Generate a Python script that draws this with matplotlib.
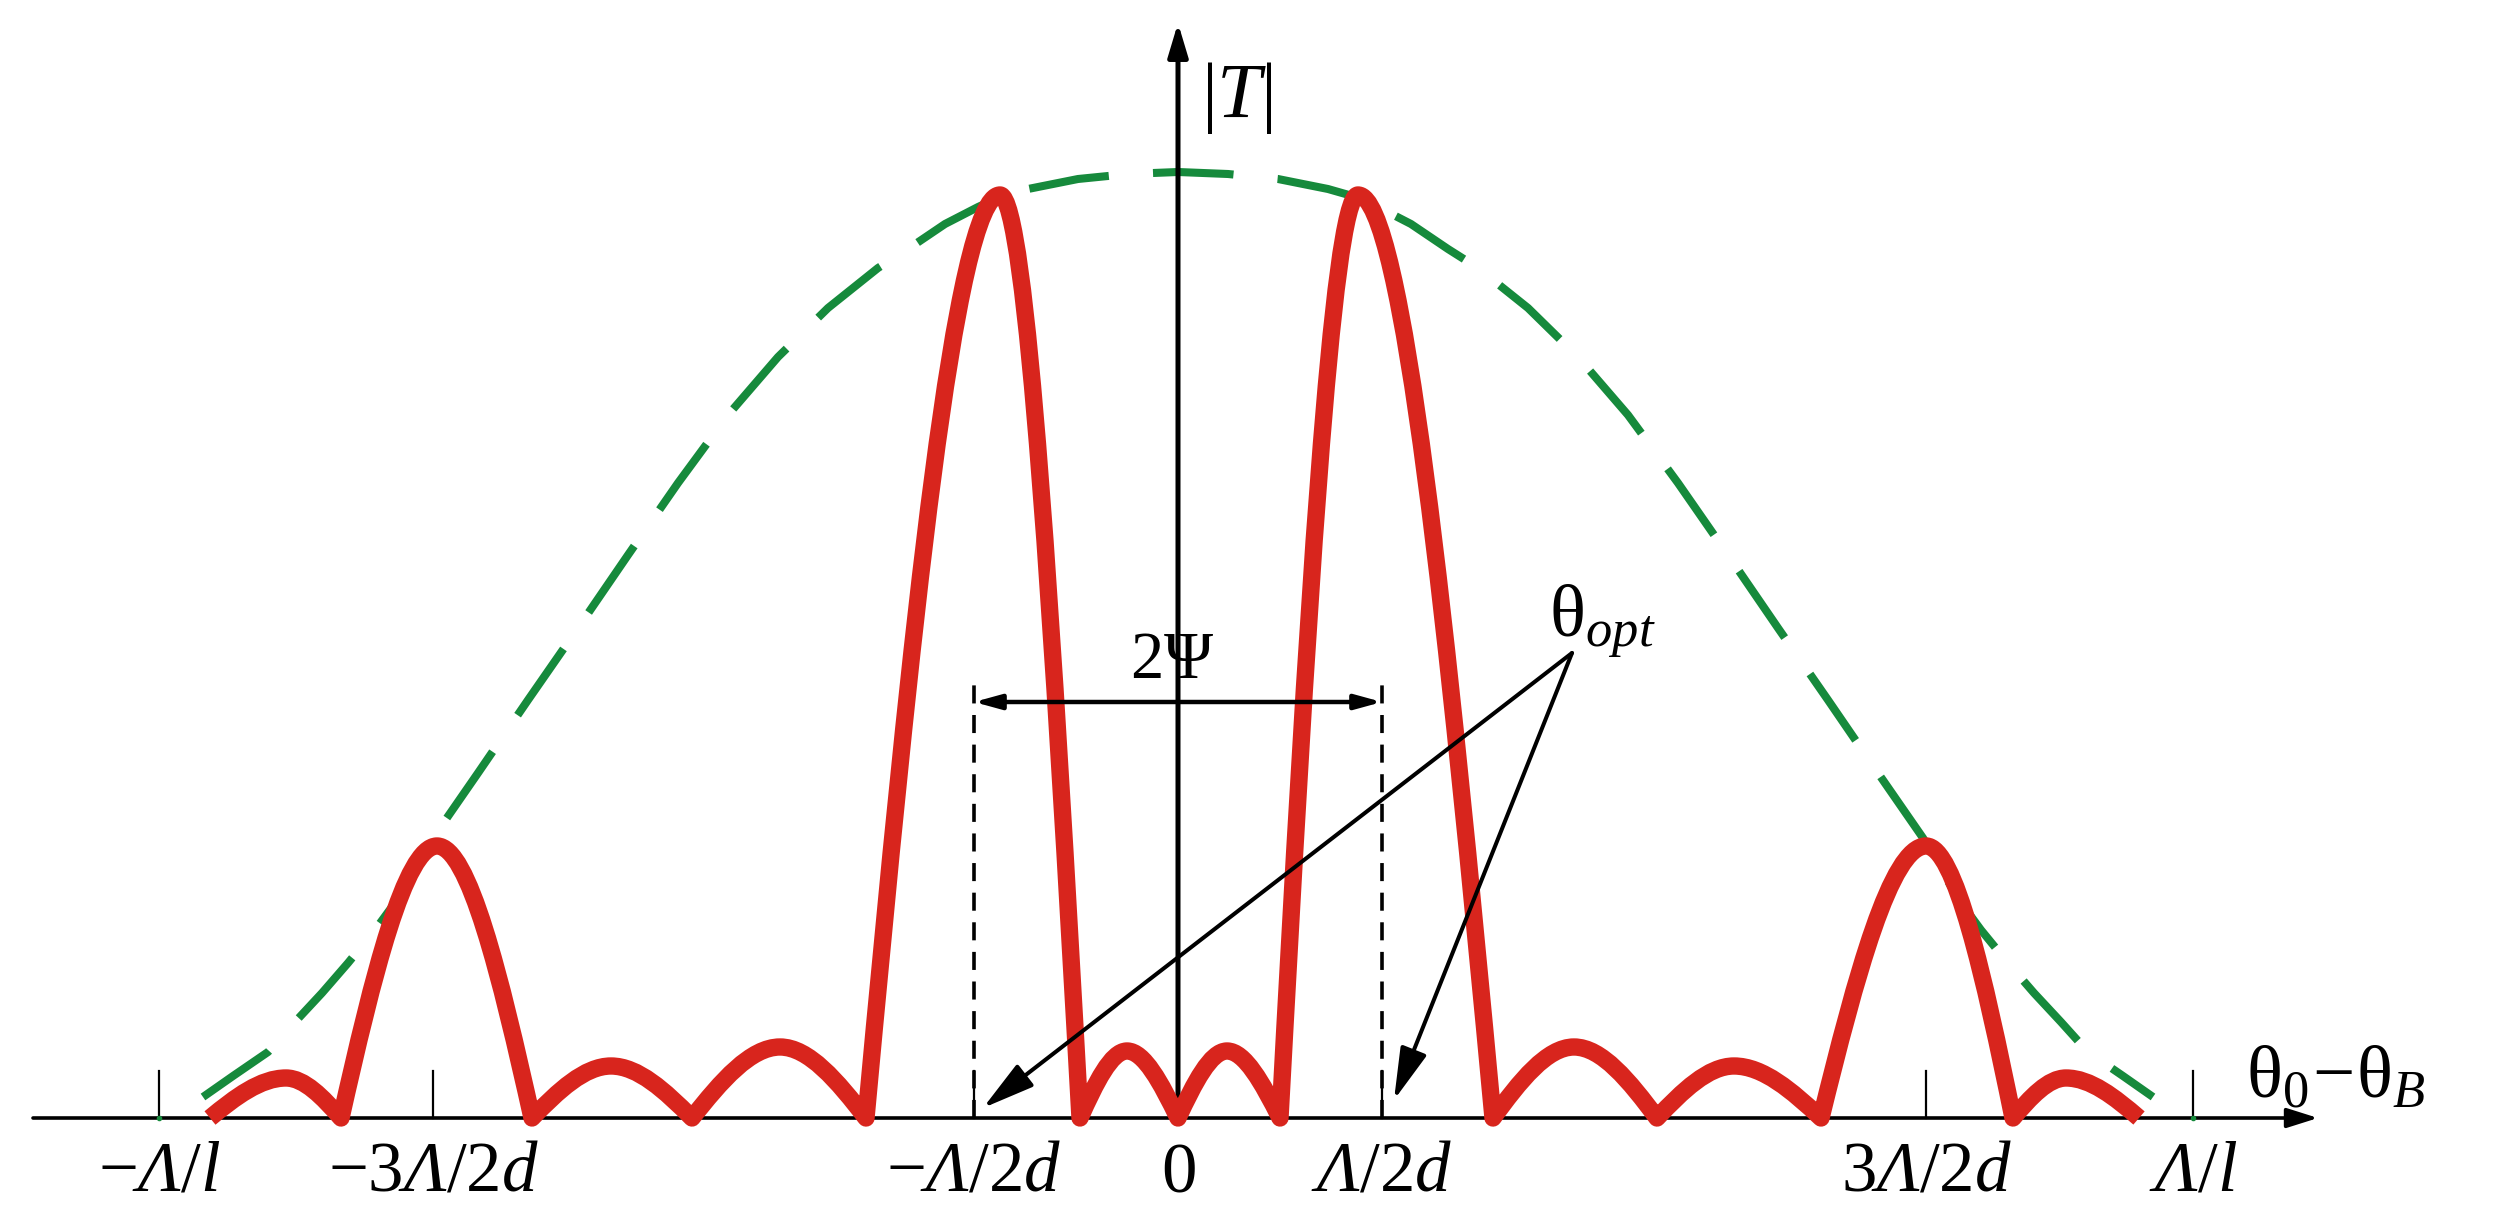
import numpy as np
import matplotlib
matplotlib.use('Agg')
import matplotlib.pyplot as plt
from matplotlib.path import Path
from matplotlib.patches import PathPatch

plt.rcParams['mathtext.fontset'] = 'custom'
plt.rcParams['mathtext.rm'] = 'Liberation Serif'
plt.rcParams['mathtext.it'] = 'Liberation Serif:italic'
plt.rcParams['mathtext.bf'] = 'Liberation Serif:bold'
plt.rcParams['mathtext.sf'] = 'Liberation Serif:italic'
plt.rcParams['font.family'] = ['Liberation Serif', 'DejaVu Serif']

# ---------------- data (x relative to |T| axis, height above theta axis) -------------
# red |T| curve: lobe boundaries (zeros) and lobe peaks
lobe_bounds = [-968, -837, -646, -486, -312, -98, 0, 102, 315, 479, 643, 835, 961]
lobe_peak_x = [-892, -741, -567, -398, -178, -51, 49, 180, 396, 556, 748, 888]
lobe_peak_h = [40, 272, 52, 71, 923, 67, 67, 923, 71, 52, 272, 40]

# green dashed envelope
env_x = [-975, -945, -910, -883, -856, -830, -803, -781, -745, -700, -650, -600, -550,
         -500, -450, -400, -350, -300, -270, -233, -200, -178, -150, -100, -50, 0,
         50, 100, 150, 178, 200, 233, 270, 300, 350, 400, 450, 500, 550, 600, 650,
         700, 745, 781, 803, 830, 856, 883, 910, 945, 975]
env_h = [21, 42, 66, 96, 125, 155, 188, 218, 280, 345, 418, 490, 563,
         635, 703, 761, 810, 850, 869, 894, 911, 921, 929, 939, 944, 946,
         944, 939, 929, 921, 911, 894, 869, 850, 810, 761, 703, 635, 563, 490, 418,
         345, 280, 218, 188, 155, 125, 96, 66, 42, 21]

# ticks and tick labels
tick_pos = [-1019, -745, -204, 204, 748, 1015]
label_pos = [-1019, -745, -204, 0, 204, 748, 1015]
label_txt = [r'$-\mathsf{\Lambda}/l$', r'$-3\mathsf{\Lambda}/2d$', r'$-\mathsf{\Lambda}/2d$',
             r'$0$', r'$\mathsf{\Lambda}/2d$', r'$3\mathsf{\Lambda}/2d$', r'$\mathsf{\Lambda}/l$']

# annotation geometry
psi_left, psi_right, psi_h, psi_top = -204, 204, 416, 441
opt_origin = (394, 465)
opt_targets = [(-195, 10), (216, 18)]

RED = '#D8251D'
GREEN = '#168A3C'

fig = plt.figure(figsize=(25.11, 12.15), dpi=100)
ax = fig.add_axes([0, 0, 1, 1])
ax.set_xlim(-1178, 1333)
ax.set_ylim(-97, 1118)
ax.axis('off')

# envelope
ax.plot(env_x, env_h, color=GREEN, lw=5.8, dashes=(10, 5.5), dash_capstyle='butt',
        solid_joinstyle='round', zorder=2)

# axes
ax.annotate('', xy=(1140, 0), xytext=(-1145, 0),
            arrowprops=dict(arrowstyle='-|>,head_length=0.95,head_width=0.3',
                            mutation_scale=20, lw=2.6, color='k',
                            shrinkA=0, shrinkB=0), zorder=3)
ax.annotate('', xy=(0, 1095), xytext=(0, 0),
            arrowprops=dict(arrowstyle='-|>,head_length=1.0,head_width=0.3',
                            mutation_scale=20, lw=3.6, color='k',
                            shrinkA=0, shrinkB=0), zorder=3)

# ticks
for t in tick_pos:
    ax.plot([t, t], [0, 47], color='k', lw=1.6, zorder=3)
ax.plot([tick_pos[0], tick_pos[-1]], [0, 0], 'o', color=GREEN, ms=3, zorder=3)

# dashed guides for 2Psi
for xg in (psi_left, psi_right):
    ax.plot([xg, xg], [0, psi_top], color='k', lw=2.6, dashes=(5, 3.2), zorder=3)

# red curve from lobes
verts = [(lobe_bounds[0], 0)]
codes = [Path.MOVETO]
for i in range(len(lobe_peak_x)):
    a, b = lobe_bounds[i], lobe_bounds[i + 1]
    xp, h = lobe_peak_x[i], lobe_peak_h[i]
    w1 = xp - a
    verts += [(a + w1 / 3, h * np.pi / 6), (xp - w1 / 3, h), (xp, h)]
    w2 = b - xp
    verts += [(xp + w2 / 3, h), (b - w2 / 3, h * np.pi / 6), (b, 0)]
    codes += [Path.CURVE4] * 6
ax.add_patch(PathPatch(Path(verts, codes), facecolor='none', edgecolor=RED, lw=12.5,
                       joinstyle='round', capstyle='butt', zorder=4))

# 2Psi arrow
ax.annotate('', xy=(psi_right, psi_h), xytext=(psi_left, psi_h),
            arrowprops=dict(arrowstyle='<|-|>,head_length=0.8,head_width=0.22',
                            mutation_scale=20, lw=3.2, color='k',
                            shrinkA=0, shrinkB=0), zorder=5)
ax.text(-6, 440, r'$2\Psi$', fontsize=48, ha='center', va='baseline', zorder=6)

# theta_opt arrows
for tx, ty in opt_targets:
    ax.annotate('', xy=(tx, ty), xytext=opt_origin,
                arrowprops=dict(arrowstyle='-|>,head_length=1.6,head_width=0.42',
                                mutation_scale=20, lw=2.9, color='k',
                                shrinkA=0, shrinkB=0), zorder=5)
ax.text(424, 482, r'$\mathrm{\theta}_{opt}$', fontsize=54, ha='center', va='baseline',
        zorder=6)

# axis labels
ax.text(59, 1001, r'$|T|$', fontsize=57, ha='center', va='baseline', zorder=6)
ax.text(1158, 21, r'$\mathrm{\theta}_0\!-\!\mathrm{\theta}_B$', fontsize=54,
        ha='center', va='baseline', zorder=6)

# tick labels
for xp, s in zip(label_pos, label_txt):
    ax.text(xp, -73, s, fontsize=51, ha='center', va='baseline', zorder=6)

fig.savefig('out.png', dpi=100, facecolor='white')
